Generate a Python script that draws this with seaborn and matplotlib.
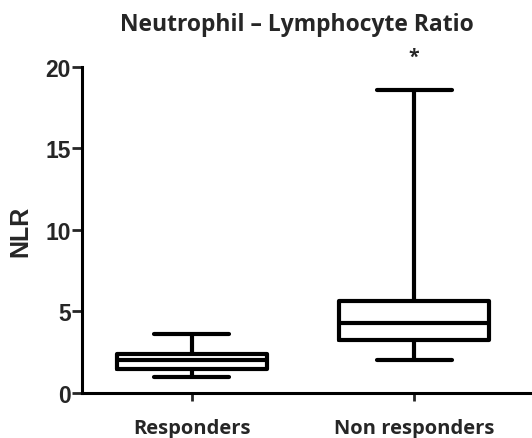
import matplotlib
matplotlib.use("Agg")
import matplotlib.pyplot as plt
import seaborn as sns
import pandas as pd

# Box summary values: min, Q1, median, Q3, max
groups = ["Responders", "Non responders"]
responders = [1.0, 1.5, 2.0, 2.4, 3.6]
non_responders = [2.0, 3.25, 4.3, 5.65, 18.6]
y_ticks = [0, 5, 10, 15, 20]

df = pd.DataFrame({
    "group": [groups[0]] * len(responders) + [groups[1]] * len(non_responders),
    "NLR": responders + non_responders,
})

sns.set_style("white")
plt.rcParams["font.family"] = ["Open Sans", "DejaVu Sans"]
arial = ["Liberation Sans", "DejaVu Sans"]

fig = plt.figure(figsize=(5.32, 4.39), dpi=100)
ax = fig.add_axes([0.154, 0.1025, 0.846, 0.743])

lw = 3.0
sns.boxplot(
    data=df, x="group", y="NLR", order=groups, ax=ax,
    whis=(0, 100), width=0.675, fill=False, color="black",
    linewidth=lw,
    boxprops=dict(linewidth=lw, color="black"),
    medianprops=dict(linewidth=lw, color="black"),
    whiskerprops=dict(linewidth=lw, color="black"),
    capprops=dict(linewidth=lw, color="black"),
    showfliers=False,
)

ax.set_ylim(0, 20)
ax.set_xlim(-0.495, 1.53)
ax.set_yticks(y_ticks)
ax.set_yticklabels([str(t) for t in y_ticks], family=arial,
                   fontweight="bold", fontsize=16.5)
ax.set_xticks([0, 1])
ax.set_xticklabels(groups, fontweight="bold", fontsize=14.5)
ax.tick_params(axis="y", length=7, width=2, pad=1, direction="out", left=True)
ax.tick_params(axis="x", length=6, width=2, pad=12, direction="out", bottom=True)

for side in ["top", "right"]:
    ax.spines[side].set_visible(False)
for side in ["left", "bottom"]:
    ax.spines[side].set_linewidth(2.2)
    ax.spines[side].set_color("black")

ax.set_xlabel("")
ax.set_ylabel("NLR", family=arial, fontweight="bold",
              fontsize=18, labelpad=9)
fig.text(297 / 532, 1 - 25 / 439, "Neutrophil \u2013 Lymphocyte Ratio",
         ha="center", va="center", fontweight="bold", fontsize=16.5)
ax.text(1, 20.6, "*", ha="center", va="center", fontsize=14,
        fontweight="bold", clip_on=False)

fig.savefig("out.png", dpi=100)
